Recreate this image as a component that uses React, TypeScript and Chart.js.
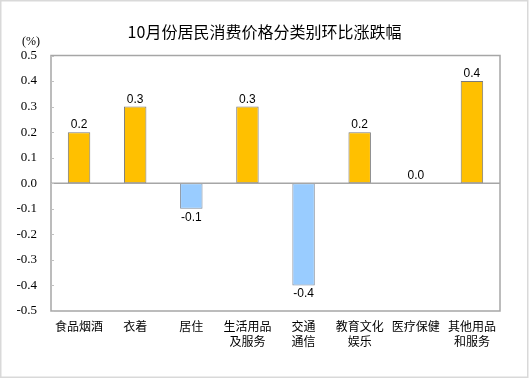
import React, { useEffect, useRef } from "react";
import { Chart, registerables } from "chart.js";

Chart.register(...registerables);

const chartTitle = "10月份居民消费价格分类别环比涨跌幅";
const unitLabel = "(%)";
const categories: string[][] = [
  ["食品烟酒"],
  ["衣着"],
  ["居住"],
  ["生活用品", "及服务"],
  ["交通", "通信"],
  ["教育文化", "娱乐"],
  ["医疗保健"],
  ["其他用品", "和服务"],
];
const values: number[] = [0.2, 0.3, -0.1, 0.3, -0.4, 0.2, 0.0, 0.4];
const valueLabels: string[] = ["0.2", "0.3", "-0.1", "0.3", "-0.4", "0.2", "0.0", "0.4"];
const yTickLabels: string[] = ["-0.5", "-0.4", "-0.3", "-0.2", "-0.1", "0.0", "0.1", "0.2", "0.3", "0.4", "0.5"];

const POS_COLOR = "#FFC000";
const NEG_COLOR = "#99CCFF";

const decorPlugin = {
  id: "decor",
  beforeDraw(chart: any) {
    const ctx = chart.ctx;
    ctx.save();
    ctx.fillStyle = "#ffffff";
    ctx.fillRect(0, 0, chart.width, chart.height);
    ctx.restore();
  },
  afterDatasetsDraw(chart: any) {
    const ctx = chart.ctx;
    const area = chart.chartArea;
    const y = chart.scales.y;
    const x = chart.scales.x;
    ctx.save();
    // zero line
    const y0 = y.getPixelForValue(0);
    ctx.strokeStyle = "#A6A6A6";
    ctx.lineWidth = 1.5;
    ctx.beginPath();
    ctx.moveTo(area.left, y0);
    ctx.lineTo(area.right, y0);
    ctx.stroke();
    // plot border
    ctx.strokeRect(area.left, area.top, area.right - area.left, area.bottom - area.top);
    // inward tick marks
    ctx.strokeStyle = "#C0C0C0";
    ctx.lineWidth = 1;
    y.ticks.forEach((t: any) => {
      const py = Math.round(y.getPixelForValue(t.value)) + 0.5;
      ctx.beginPath();
      ctx.moveTo(area.left, py);
      ctx.lineTo(area.left + 3, py);
      ctx.stroke();
    });
    // data labels
    ctx.fillStyle = "#000000";
    ctx.font = '12px "Liberation Sans", Arial, sans-serif';
    ctx.textAlign = "center";
    ctx.textBaseline = "alphabetic";
    const meta = chart.getDatasetMeta(0);
    meta.data.forEach((bar: any, i: number) => {
      const v = values[i];
      const px = bar.x;
      if (v >= 0) {
        ctx.fillText(valueLabels[i], px, bar.y - 4);
      } else {
        ctx.fillText(valueLabels[i], px, bar.y + 12);
      }
    });
    // title
    ctx.font = '16px "Noto Sans CJK SC", sans-serif';
    ctx.textBaseline = "middle";
    ctx.fillText(chartTitle, chart.width / 2, 32);
    // unit label
    ctx.font = '12px "Liberation Serif", serif';
    ctx.fillText(unitLabel, 31, 42);
    // outer frame
    ctx.strokeStyle = "#D9D9D9";
    ctx.lineWidth = 1.5;
    ctx.strokeRect(0.75, 0.75, chart.width - 2, chart.height - 1.5);
    ctx.restore();
  },
};

export default function App() {
  const ref = useRef<HTMLCanvasElement | null>(null);

  useEffect(() => {
    document.body.style.margin = "0";
    const canvas = ref.current;
    if (!canvas) return;
    const chart = new Chart(canvas, {
      type: "bar",
      data: {
        labels: categories,
        datasets: [
          {
            data: values,
            backgroundColor: values.map((v) => (v >= 0 ? POS_COLOR : NEG_COLOR)),
            borderColor: values.map((v) => (v >= 0 ? "#7A7A7A" : "#7F8A99")),
            borderWidth: values.map((v) => (v === 0 ? 0 : 1)),
            borderSkipped: false,
            categoryPercentage: 1,
            barPercentage: 0.4,
          },
        ],
      },
      options: {
        responsive: false,
        animation: false,
        devicePixelRatio: 1,
        layout: { padding: { left: 0, right: 29, top: 55.5, bottom: 0 } },
        plugins: {
          legend: { display: false },
          title: { display: false },
          tooltip: { enabled: false },
        },
        scales: {
          x: {
            grid: { display: false, drawTicks: false },
            border: { display: false },
            ticks: {
              padding: 8,
              color: "#000000",
              maxRotation: 0,
              autoSkip: false,
              font: { family: '"Noto Sans CJK SC", sans-serif', size: 12, lineHeight: 1.25 },
            },
            afterFit: (s: any) => {
              s.height = 67;
            },
          },
          y: {
            min: -0.5,
            max: 0.5,
            grid: { display: false, drawTicks: false },
            border: { display: false },
            ticks: {
              stepSize: 0.1,
              padding: 14,
              color: "#000000",
              font: { family: '"Liberation Serif", serif', size: 13 },
              callback: (_v: any, i: number) => yTickLabels[i],
            },
            afterFit: (s: any) => {
              s.width = 51;
            },
          },
        },
      },
      plugins: [decorPlugin],
    } as any);
    return () => chart.destroy();
  }, []);

  return (
    <div style={{ position: "absolute", left: 0, top: 0, width: 529, height: 378 }}>
      <canvas ref={ref} width={529} height={378} style={{ width: 529, height: 378, display: "block" }} />
    </div>
  );
}
